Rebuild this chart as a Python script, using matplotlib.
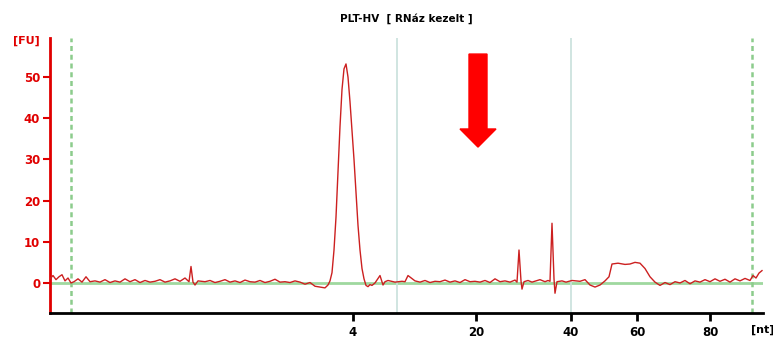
import numpy as np
import matplotlib
matplotlib.use('Agg')
import matplotlib.pyplot as plt

# electropherogram trace (migration time in s, fluorescence in FU)
time_s = [20.0, 20.3, 20.6, 20.9, 21.2, 21.5, 21.8, 22.1, 22.4, 22.8, 23.2, 23.6, 24.0,
          24.5, 25.0, 25.5, 26.0, 26.5, 27.0, 27.5, 28.0, 28.5, 29.0, 29.5, 30.0, 30.5,
          31.0, 31.5, 32.0, 32.5, 33.0, 33.5, 33.9, 34.1, 34.3, 34.5, 34.8, 35.5, 36.0,
          36.5, 37.0, 37.5, 38.0, 38.5, 39.0, 39.5, 40.0, 40.5, 41.0, 41.5, 42.0, 42.5,
          43.0, 43.5, 44.0, 44.5, 45.0, 45.5, 46.0, 46.5, 47.0, 47.5, 47.8, 48.0, 48.2,
          48.4, 48.6, 48.8, 49.0, 49.2, 49.4, 49.6, 49.8, 50.0, 50.2, 50.4, 50.6, 50.8,
          51.0, 51.2, 51.4, 51.6, 51.8, 52.0, 52.2, 52.5, 53.0, 53.3, 53.5, 53.8, 54.5,
          55.2, 55.5, 55.8, 56.5, 57.0, 57.5, 58.0, 58.5, 59.0, 59.5, 60.0, 60.5, 61.0,
          61.5, 62.0, 62.5, 63.0, 63.5, 64.0, 64.5, 65.0, 65.5, 66.0, 66.5, 66.7, 66.9,
          67.1, 67.2, 67.4, 67.8, 68.2, 68.6, 69.0, 69.5, 69.8, 70.0, 70.2, 70.4, 70.5,
          70.7, 71.2, 71.6, 72.2, 73.0, 73.5, 74.0, 74.5, 75.0, 75.5, 75.9, 76.2, 76.8,
          77.5, 78.0, 78.5, 79.0, 79.5, 80.0, 80.5, 81.0, 81.5, 82.0, 82.5, 83.0, 83.5,
          84.0, 84.5, 85.0, 85.5, 86.0, 86.5, 87.0, 87.5, 88.0, 88.5, 89.0, 89.5, 90.0,
          90.3, 90.6, 90.9, 91.2]
fu = [1.0, 1.8, 0.8, 1.5, 2.0, 0.5, 1.2, 0.0, 0.3, 1.0, 0.2, 1.5, 0.3,
      0.5, 0.2, 0.8, 0.1, 0.5, 0.2, 1.0, 0.3, 0.8, 0.1, 0.6, 0.2, 0.4,
      0.8, 0.2, 0.5, 1.0, 0.4, 1.2, 0.3, 4.0, 0.2, -0.5, 0.5, 0.3, 0.6,
      0.1, 0.4, 0.8, 0.2, 0.5, 0.1, 0.7, 0.3, 0.2, 0.6, 0.1, 0.4, 0.9,
      0.2, 0.3, 0.1, 0.5, 0.2, -0.3, 0.1, -0.8, -1.0, -1.2, -0.5, 0.5, 2.5,
      8.0, 16.0, 27.0, 38.0, 47.0, 52.0, 53.2, 50.0, 44.0, 37.0, 30.0, 22.0, 14.0,
      8.0, 3.5, 1.0, -0.6, -0.9, -0.4, -0.6, 0.0, 1.8, -0.5, 0.3, 0.6, 0.2,
      0.4, 0.3, 1.8, 0.5, 0.2, 0.6, 0.1, 0.4, 0.3, 0.7, 0.2, 0.5, 0.1,
      0.8, 0.3, 0.4, 0.2, 0.6, 0.1, 1.0, 0.3, 0.5, 0.2, 0.7, 0.2, 8.0,
      0.5, -1.5, 0.3, 0.6, 0.2, 0.5, 0.8, 0.3, 0.6, 0.4, 14.5, 1.0, -2.5,
      0.3, 0.5, 0.2, 0.6, 0.4, 0.8, -0.5, -1.0, -0.5, 0.5, 1.5, 4.6, 4.8,
      4.5, 4.6, 5.0, 4.8, 3.5, 1.5, 0.2, -0.6, 0.1, -0.4, 0.3, 0.0, 0.6,
      -0.2, 0.5, 0.2, 0.8, 0.3, 1.0, 0.4, 0.9, 0.2, 1.0, 0.5, 1.1, 0.6,
      1.8, 1.2, 2.4, 3.0]

tick_pos = [50.3, 62.6, 72.1, 78.7, 86.0]
tick_lab = ['4', '20', '40', '60', '80']
marker_lines = [22.1, 90.2]    # lower / upper marker
range_lines = [54.7, 72.1]

plt.rcParams['font.family'] = 'DejaVu Sans'
fig = plt.figure(figsize=(7.73, 3.38), dpi=100)
ax = fig.add_axes([50/773, 25/338, 713/773, 275/338])

ax.axhline(0, color='#9fd89f', linewidth=2, zorder=1)
for x in marker_lines:
    ax.axvline(x, color='#8ccc8c', linewidth=1.8, linestyle=(0, (2, 1.5)), zorder=1)
for x in range_lines:
    ax.axvline(x, color='#c8e0dc', linewidth=1.2, zorder=1)

ax.plot(time_s, fu, color='#cc2020', linewidth=1.0, zorder=3)

# red arrow pointing at the 20-40 nt region
ax.arrow(62.8, 55.6, 0, -22.6, width=1.8, head_width=3.6, head_length=4.4,
         length_includes_head=True, color='#ff0000', zorder=4)

ax.set_xlim(20, 91.3)
ax.set_ylim(-7.3, 59.5)

for s in ['top', 'right']:
    ax.spines[s].set_visible(False)
ax.spines['left'].set_color('#e00000')
ax.spines['left'].set_linewidth(2)
ax.spines['bottom'].set_color('black')
ax.spines['bottom'].set_linewidth(2)

ax.set_yticks([0, 10, 20, 30, 40, 50])
ax.tick_params(axis='y', colors='#e00000', labelsize=8.5, width=1.5, length=5, pad=2)
for lab in ax.get_yticklabels():
    lab.set_fontweight('bold')
ax.set_xticks(tick_pos)
ax.set_xticklabels(tick_lab, fontsize=8.5, fontweight='bold')
ax.tick_params(axis='x', colors='black', width=2, length=6, pad=3)

ax.text(-0.052, 0.99, '[FU]', transform=ax.transAxes, color='#e00000',
        fontsize=8, fontweight='bold', ha='left', va='center')
ax.text(0.983, -0.06, '[nt]', transform=ax.transAxes, color='black',
        fontsize=8, fontweight='bold', ha='left', va='center')
ax.set_title('PLT-HV  [ RNáz kezelt ]', fontsize=7.5, fontweight='bold', pad=12)

fig.savefig('out.png', dpi=100)
